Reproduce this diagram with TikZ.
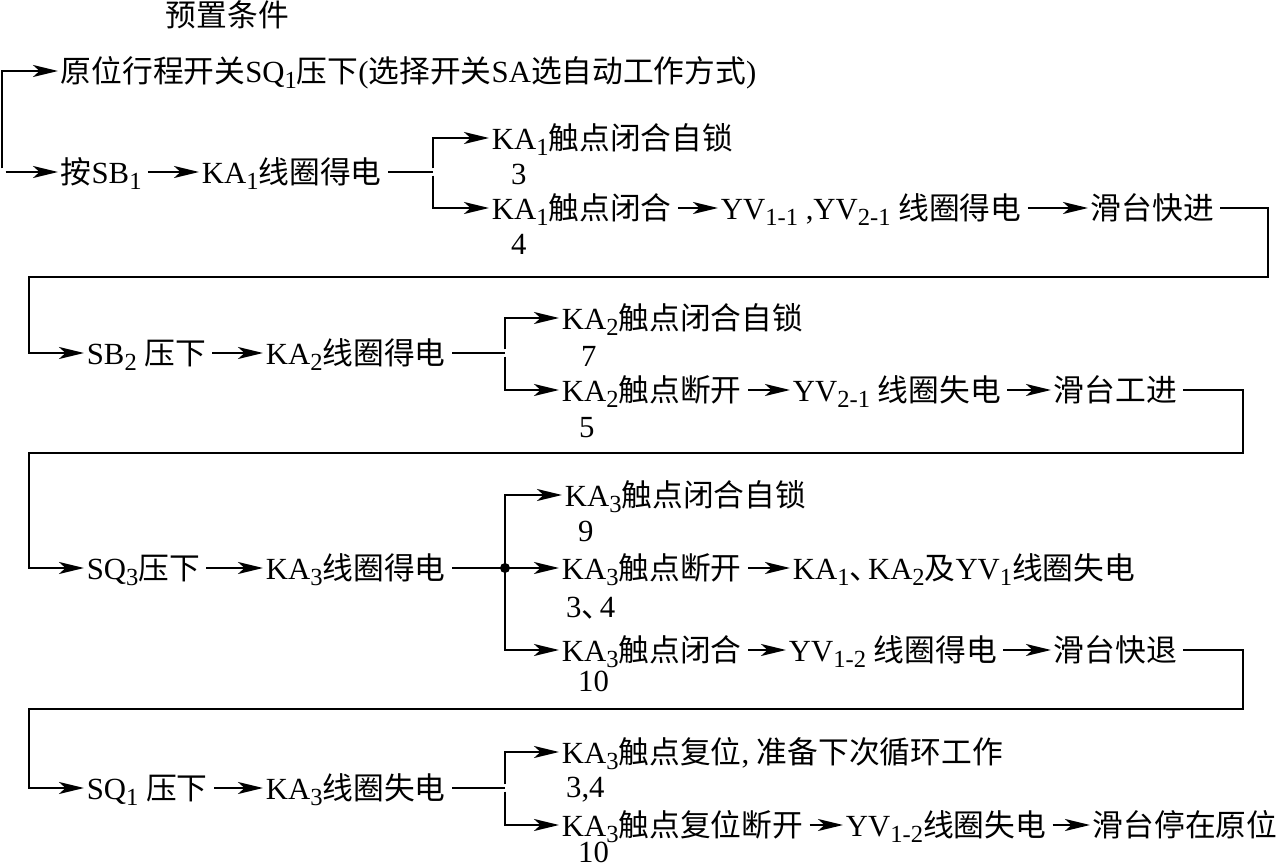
\documentclass[tikz,border=0pt]{standalone}
\usepackage{fontspec}
\setmainfont{Liberation Serif}
\newfontfamily\cjk{Noto Sans CJK SC}
\XeTeXinterchartokenstate=1
\newXeTeXintercharclass\hanclass
\count255="3000
\loop\XeTeXcharclass\count255=\hanclass\advance\count255 by 1 \ifnum\count255<"A000 \repeat
\XeTeXcharclass"FF0C=\hanclass
\XeTeXinterchartoks 0 \hanclass = {\cjk}
\XeTeXinterchartoks 4095 \hanclass = {\cjk}
\XeTeXinterchartoks \hanclass 0 = {\rmfamily}
\XeTeXinterchartoks \hanclass 4095 = {\rmfamily}
\usepackage{tikz}
\usetikzlibrary{arrows.meta}
\newcommand\idx[1]{\raisebox{-0.45ex}{\fontsize{14}{14}\selectfont#1}}
\newcommand\dun{、\kern-.4em}

\begin{document}
\begin{tikzpicture}[x=0.02cm, y=-0.02cm, line width=1.3pt,
  txt/.style={anchor=west, inner xsep=1pt, inner ysep=0pt,
              font=\fontsize{17.5}{20}\selectfont, text height=16pt, text depth=3pt},
  num/.style={anchor=west, inner sep=0pt, font=\fontsize{17.5}{20}\selectfont},
  flow/.style={-{Stealth[length=5mm,width=2.4mm,inset=1.3mm]}, shorten <=2pt},
  wire/.style={shorten <=2pt}
]
  \useasboundingbox (0,0) rectangle (1279,868);

  \node[txt] (pre) at (163,15) {预置条件};
  \node[txt] (r1) at (58,71) {原位行程开关SQ\idx{1}压下(选择开关SA选自动工作方式)};

  % row 2
  \coordinate (s0) at (2,172);
  \node[txt] (sb1) at (58,172) {按SB\idx{1}};
  \node[txt] (ka1) at (199,172) {KA\idx{1}线圈得电};
  \coordinate (j1) at (433,172);
  \node[txt] (ka1a) at (489,138) {KA\idx{1}触点闭合自锁};
  \node[num] (n3) at (510,174) {3};
  \node[txt] (ka1b) at (489,208) {KA\idx{1}触点闭合};
  \node[num] (n4) at (510,244) {4};
  \node[txt] (yv11) at (718,208) {YV\idx{1-1} ,YV\idx{2-1} 线圈得电};
  \node[txt] (kj) at (1088,208) {滑台快进};
  \coordinate (t1) at (1268,277);
  \coordinate (l1) at (29,277);

  % row 3
  \node[txt] (sb2) at (84,353) {SB\idx{2} 压下};
  \node[txt] (ka2) at (263,353) {KA\idx{2}线圈得电};
  \coordinate (j2) at (505,353);
  \node[txt] (ka2a) at (559,318) {KA\idx{2}触点闭合自锁};
  \node[num] (n7) at (580,356) {7};
  \node[txt] (ka2b) at (559,390) {KA\idx{2}触点断开};
  \node[num] (n5) at (578,428) {5};
  \node[txt] (yv21) at (790,390) {YV\idx{2-1} 线圈失电};
  \node[txt] (gj) at (1051,390) {滑台工进};
  \coordinate (t2) at (1243,453);
  \coordinate (l2) at (29,453);

  % row 4
  \node[txt] (sq3) at (84,568) {SQ\idx{3}压下};
  \node[txt] (ka3) at (263,568) {KA\idx{3}线圈得电};
  \coordinate (j3) at (505,568);
  \node[txt] (ka3a) at (562,495) {KA\idx{3}触点闭合自锁};
  \node[num] (n9) at (577,531) {9};
  \node[txt] (ka3b) at (559,568) {KA\idx{3}触点断开};
  \node[num] (n34) at (565,608) {3\dun4};
  \node[txt] (ka12) at (790,568) {KA\idx{1}\dun KA\idx{2}及YV\idx{1}线圈失电};
  \node[txt] (ka3c) at (559,650) {KA\idx{3}触点闭合};
  \node[num] (n10) at (577,681) {10};
  \node[txt] (yv12) at (786,650) {YV\idx{1-2} 线圈得电};
  \node[txt] (kt) at (1051,650) {滑台快退};
  \coordinate (t3) at (1243,709);
  \coordinate (l3) at (29,709);

  % row 5
  \node[txt] (sq1) at (84,788) {SQ\idx{1} 压下};
  \node[txt] (ka3o) at (263,788) {KA\idx{3}线圈失电};
  \coordinate (j4) at (505,788);
  \node[txt] (ka3r) at (559,752) {KA\idx{3}触点复位,\hspace{0.25em}准备下次循环工作};
  \node[num] (m34) at (565,790) {3,4};
  \node[txt] (ka3s) at (559,825) {KA\idx{3}触点复位断开};
  \node[num] (m10) at (577,852) {10};
  \node[txt] (yv12b) at (843,825) {YV\idx{1-2}线圈失电};
  \node[txt] (tz) at (1090,825) {滑台停在原位};

  \draw[flow] (s0) |- (r1.west);
  \draw[flow] (s0) -- (sb1.west);
  \draw[flow] (sb1) -- (ka1);
  \draw[wire] (ka1.east) -- (j1);
  \draw[flow] (j1) |- (ka1a.west);
  \draw[flow] (j1) |- (ka1b.west);
  \draw[flow] (ka1b) -- (yv11);
  \draw[flow] (yv11) -- (kj);
  \draw[flow] (kj.east) -| (t1) -- (l1) |- (sb2.west);

  \draw[flow] (sb2) -- (ka2);
  \draw[wire] (ka2.east) -- (j2);
  \draw[flow] (j2) |- (ka2a.west);
  \draw[flow] (j2) |- (ka2b.west);
  \draw[flow] (ka2b) -- (yv21);
  \draw[flow] (yv21) -- (gj);
  \draw[flow] (gj.east) -| (t2) -- (l2) |- (sq3.west);

  \draw[flow] (sq3) -- (ka3);
  \draw[wire] (ka3.east) -- (j3);
  \fill (j3) circle[radius=0.1cm];
  \draw[flow] (j3) |- (ka3a.west);
  \draw[flow] (j3) -- (ka3b.west);
  \draw[flow] (j3) |- (ka3c.west);
  \draw[flow] (ka3b) -- (ka12);
  \draw[flow] (ka3c) -- (yv12);
  \draw[flow] (yv12) -- (kt);
  \draw[flow] (kt.east) -| (t3) -- (l3) |- (sq1.west);

  \draw[flow] (sq1) -- (ka3o);
  \draw[wire] (ka3o.east) -- (j4);
  \draw[flow] (j4) |- (ka3r.west);
  \draw[flow] (j4) |- (ka3s.west);
  \draw[flow] (ka3s) -- (yv12b);
  \draw[flow] (yv12b) -- (tz);
\end{tikzpicture}
\end{document}
